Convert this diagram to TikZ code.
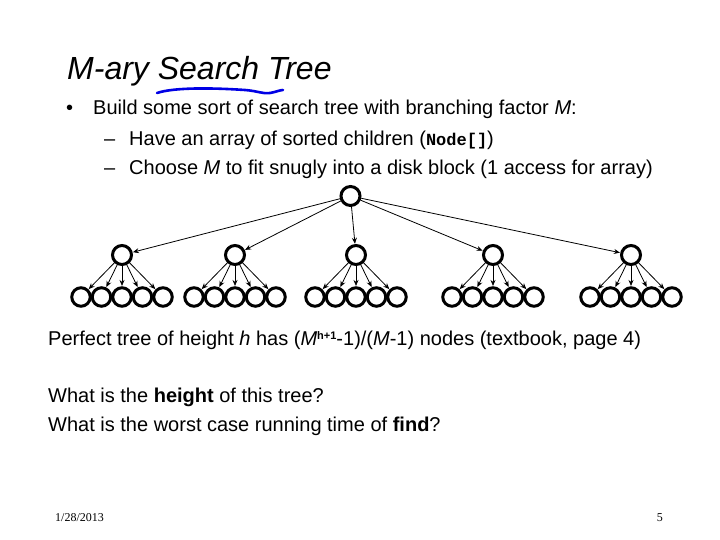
\documentclass[tikz,border=0pt]{standalone}
\usepackage{fontspec}
\setmainfont{Liberation Sans}
\newfontfamily\serifft{Liberation Serif}
\newfontfamily\monoft{Liberation Mono}
\usetikzlibrary{arrows.meta}
\tikzset{
  txt/.style={anchor=base west, inner sep=0pt, font=\fontsize{20}{24}\selectfont},
  tnode/.style={circle, draw, line width=3pt, minimum size=18.5pt, inner sep=0pt},
  rnode/.style={tnode, minimum size=19pt},
  edge/.style={line width=0.8pt, -{Stealth[length=6pt,width=5pt]}, shorten >=0.3pt},
}
\begin{document}
\begin{tikzpicture}[x=1pt,y=-1pt]
\useasboundingbox (0,0) rectangle (720,540);
\fill[white] (0,0) rectangle (720,540);
% title
\node[anchor=base west, inner sep=0pt, font=\fontsize{32}{38}\selectfont\itshape] (title) at (67,80) {M-ary Search Tree};
\draw[blue!90!black, line width=2.6pt, line cap=round] (157,93) .. controls (175,87) and (215,88) .. (245,90) .. controls (258,91) and (262,94) .. (270,93) .. controls (276,92) and (280,90) .. (283,90);
% bullets
\node[txt] (b1) at (66,115) {•};
\node[txt] (t1) at (93,115) {Build some sort of search tree with branching factor \textit{M}:};
\node[txt] (d1) at (104,146) {–};
\node[txt] (t2) at (129,146) {Have an array of sorted children ({\monoft\bfseries\fontsize{17}{20}\selectfont Node[]})};
\node[txt] (d2) at (104,175) {–};
\node[txt] (t3) at (129,175) {Choose \textit{M} to fit snugly into a disk block (1 access for array)};
% tree
\node[rnode] (r) at (350.5,196) {};
\foreach \i/\x in {1/122,2/235,3/356,4/493,5/631}{
  \node[rnode] (m\i) at (\x,255) {};
  \draw[edge] (r) -- (m\i);
  \foreach \j in {1,...,5}{
    \node[tnode] (l\i\j) at ({\x+20.5*(\j-3)},297) {};
    \draw[edge] (m\i) -- (l\i\j);
  }
}
% bottom text
\node[txt] (p) at (48,345) {Perfect tree of height \textit{h} has (\textit{M}\raisebox{6pt}{\fontsize{11}{12}\selectfont\bfseries h+1}-1)/(\textit{M}-1) nodes (textbook, page 4)};
\node[txt] (q1) at (48,402) {What is the \textbf{height} of this tree?};
\node[txt] (q2) at (48,431) {What is the worst case running time of \textbf{find}?};
% footer
\node[anchor=base west, inner sep=0pt, font=\serifft\fontsize{12}{14}\selectfont] (date) at (55,521) {1/28/2013};
\node[anchor=base east, inner sep=0pt, font=\serifft\fontsize{12}{14}\selectfont] (pg) at (663,521) {5};
\end{tikzpicture}
\end{document}
